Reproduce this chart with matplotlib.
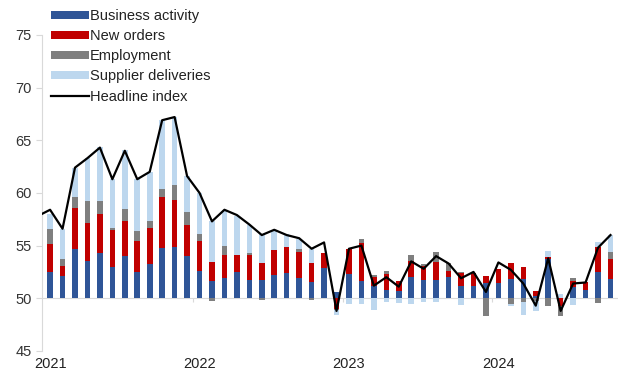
import numpy as np
import pandas as pd
import matplotlib
matplotlib.use("Agg")
from matplotlib import pyplot as plt

plt.rcParams['font.family'] = ['Liberation Sans', 'DejaVu Sans']

# monthly, Jan 2021 - Oct 2024; contributions in points relative to 50
months = pd.period_range('2021-01', '2024-10', freq='M')

business = [2.46, 2.08, 4.67, 3.56, 4.26, 2.93, 3.97, 2.46, 3.22, 4.73, 4.89, 3.97,
            2.62, 1.67, 1.89, 2.52, 1.74, 1.74, 2.21, 2.37, 1.89, 1.58, 2.84, 0.60,
            2.30, 1.67, 1.20, 0.79, 0.73, 2.05, 1.74, 1.74, 1.99, 1.14, 1.20, 1.45,
            1.45, 1.83, 1.83, 0.25, 3.72, 0.00, 1.04, 0.82, 2.46, 1.83]
new_orders = [2.68, 1.01, 3.88, 3.60, 3.72, 3.54, 3.38, 3.00, 3.44, 4.89, 4.42, 3.03,
              2.84, 1.74, 2.24, 1.58, 2.36, 1.58, 2.37, 2.52, 2.52, 1.74, 1.42, -1.00,
              2.37, 3.53, 0.79, 1.51, 0.95, 1.51, 1.36, 1.67, 0.63, 1.26, 1.20, 0.69,
              1.33, 1.48, 1.10, 0.47, 0.16, -0.70, 0.63, 0.69, 2.37, 1.89]
employment = [1.42, 0.63, 1.07, 2.11, 1.29, 0.19, 1.17, 0.94, 0.63, 0.73, 1.42, 1.20,
              0.63, -0.30, 0.79, 0.00, 0.15, -0.20, 0.00, 0.00, 0.22, -0.12, 0.00, -0.15,
              0.00, 0.41, 0.22, 0.25, 0.00, 0.57, 0.16, 1.00, 0.73, 0.10, 0.00, -1.64,
              0.00, -0.50, -0.38, -0.30, -0.70, -1.00, 0.25, 0.00, -0.47, 0.69]
supplier = [1.42, 2.84, 2.78, 4.07, 5.08, 4.63, 5.52, 4.89, 4.73, 6.53, 6.46, 3.41,
            3.94, 3.88, 3.44, 3.72, 2.75, 2.75, 1.83, 1.17, 1.04, 1.33, 0.00, -0.45,
            -0.54, -0.50, -1.10, -0.35, -0.45, -0.50, -0.35, -0.35, 0.00, -0.60, 0.00, 0.00,
            0.00, -0.25, -1.20, -0.90, 0.63, 0.40, -0.60, 0.00, 0.54, 1.58]
# headline index, first value is Dec 2020 (only the stub at the axis is visible)
headline = [57.8,
            58.4, 56.6, 62.4, 63.3, 64.3, 61.3, 64.0, 61.3, 62.0, 66.9, 67.2, 61.6,
            60.0, 57.3, 58.4, 57.9, 57.0, 56.0, 56.5, 56.0, 55.7, 54.7, 55.3, 48.8,
            54.7, 55.0, 51.2, 52.0, 51.1, 53.5, 52.8, 54.0, 53.3, 51.9, 52.5, 50.6,
            53.4, 52.7, 51.4, 49.3, 53.8, 48.8, 51.4, 51.5, 54.8, 56.0]

series = [("Business activity", business, "#2F5597"),
          ("New orders", new_orders, "#C00000"),
          ("Employment", employment, "#7F7F7F"),
          ("Supplier deliveries", supplier, "#BDD7EE")]

x = np.arange(len(months))
base = 50

fig = plt.figure(figsize=(6.24, 3.79), dpi=100)
ax = fig.add_axes([0.0673, 0.074, 0.923, 0.834])

pos = np.full(len(x), float(base))
neg = np.full(len(x), float(base))
handles = []
for name, vals, col in series:
    v = np.array(vals)
    bottom = np.where(v >= 0, pos, neg)
    h = ax.bar(x, v, bottom=bottom, width=0.45, color=col, label=name, zorder=2)
    handles.append(h)
    pos = np.where(v >= 0, pos + v, pos)
    neg = np.where(v < 0, neg + v, neg)

xl = np.arange(-1, len(months))
line, = ax.plot(xl, headline, color="black", lw=1.6, label="Headline index", zorder=3)
handles.append(line)

ax.axhline(base, color="#D9D9D9", lw=0.8, zorder=1)
ax.vlines(np.arange(-0.5, len(months), 12)[1:], base - 0.35, base, color="#D9D9D9", lw=0.8)

ax.set_xlim(-0.65, 45.6)
ax.set_ylim(45, 75)
ax.set_yticks(range(45, 80, 5))
year_idx = [i for i, m in enumerate(months) if m.month == 1]
ax.set_xticks(year_idx)
ax.set_xticklabels([str(months[i].year) for i in year_idx])
ax.tick_params(axis='x', length=0, labelsize=10.5, colors="#222222", pad=4)
ax.tick_params(axis='y', length=4, color="#D9D9D9", labelsize=10.5, labelcolor="#333333")

for s in ["top", "right", "bottom"]:
    ax.spines[s].set_visible(False)
ax.spines["left"].set_color("#D9D9D9")

leg = ax.legend(handles=handles, loc="upper left", bbox_to_anchor=(0.005, 1.1), frameon=False,
                fontsize=10.5, handlelength=2.6, handleheight=0.5, labelspacing=0.42,
                handletextpad=0.1, borderaxespad=0.0)
for t in leg.get_texts():
    t.set_color("#222222")

fig.savefig("out.png", dpi=100)
